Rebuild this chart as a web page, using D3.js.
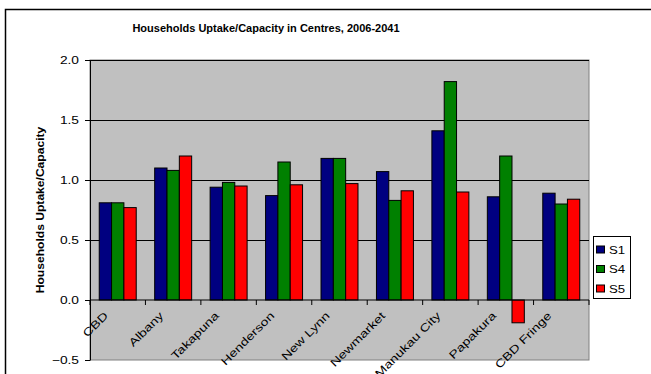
<!DOCTYPE html>
<html><head><meta charset="utf-8">
<script src="https://cdn.jsdelivr.net/npm/d3@7"></script>
<style>body{margin:0;background:#fff;}svg{display:block;font-family:"Liberation Sans",Arial,sans-serif;}</style>
</head><body>
<script>
const categories = ["CBD","Albany","Takapuna","Henderson","New Lynn","Newmarket","Manukau City","Papakura","CBD Fringe"];
const seriesNames = ["S1","S4","S5"];
const s1 = [0.81,1.10,0.94,0.87,1.18,1.07,1.41,0.86,0.89];
const s4 = [0.81,1.08,0.98,1.15,1.18,0.83,1.82,1.20,0.80];
const s5 = [0.77,1.20,0.95,0.96,0.97,0.91,0.90,-0.19,0.84];
const yTicks = [-0.5,0.0,0.5,1.0,1.5,2.0];
const colors = ["#000080","#008000","#FF0000"];

const W=651,H=374;
const svg=d3.select("body").append("svg").attr("width",W).attr("height",H);
svg.append("rect").attr("x",5.5).attr("y",9.5).attr("width",700).attr("height",400).attr("fill","#fff").attr("stroke","#000").attr("stroke-width",1.5);

const L=90,R=589,T=60,B=360;
const x=d3.scaleBand().domain(categories).range([L,R]).paddingInner(0.333).paddingOuter(0.1667);
const y=d3.scaleLinear().domain([-0.5,2.0]).range([B,T]);
const xs=d3.scaleBand().domain(seriesNames).range([0,x.bandwidth()]);

svg.append("rect").attr("x",L).attr("y",T).attr("width",R-L).attr("height",B-T).attr("fill","#C0C0C0").attr("stroke","#808080");
svg.append("g").selectAll("line").data(yTicks.filter(d=>d>0)).join("line")
 .attr("x1",L).attr("x2",R).attr("y1",d=>Math.round(y(d))+0.5).attr("y2",d=>Math.round(y(d))+0.5).attr("stroke","#000").attr("stroke-width",1);

const data=[s1,s4,s5];
const g=svg.append("g");
seriesNames.forEach((s,i)=>{
  g.selectAll(".b"+i).data(categories).join("rect")
   .attr("x",c=>x(c)+xs(s)).attr("width",xs.bandwidth())
   .attr("y",(c,j)=>y(Math.max(0,data[i][j])))
   .attr("height",(c,j)=>Math.abs(y(data[i][j])-y(0)))
   .attr("fill",colors[i]).attr("stroke","#000").attr("stroke-width",1);
});

// y axis
const ya=svg.append("g").attr("transform",`translate(${L},0)`).call(d3.axisLeft(y).tickValues(yTicks).tickFormat(d3.format(".1f")).tickSize(5).tickSizeOuter(0));
ya.select(".domain").attr("stroke","#000");
ya.selectAll("line").attr("stroke","#000");
ya.selectAll(".tick text").each(function(){
  const t=d3.select(this);
  t.attr("font-size",11).attr("fill","#000").attr("font-family","Liberation Sans, Arial, sans-serif")
   .attr("x",0).attr("transform","translate(-11,0) scale(1.25,1)");
});

// x axis at zero
const xa=svg.append("g").attr("transform",`translate(0,${y(0)})`);
xa.append("line").attr("x1",L).attr("x2",R).attr("y1",0).attr("y2",0).attr("stroke","#000");
const step=(R-L)/categories.length;
xa.selectAll(".tk").data(d3.range(categories.length+1)).join("line")
 .attr("x1",i=>L+i*step).attr("x2",i=>L+i*step).attr("y1",0).attr("y2",5).attr("stroke","#000");
xa.selectAll("text").data(categories).join("text")
 .attr("transform",c=>`translate(${x(c)+x.bandwidth()/2-14.5},${11}) rotate(-45) scale(1.3,1)`)
 .attr("text-anchor","end").attr("dy","0.7em").attr("font-size",11).attr("fill","#000").text(c=>c);

// title
svg.append("text").attr("x",266).attr("y",32).attr("text-anchor","middle").attr("font-size",11).attr("font-weight","bold").text("Households Uptake/Capacity in Centres, 2006-2041");
svg.append("text").attr("transform","translate(44,210) rotate(-90) scale(1.1,1)").attr("text-anchor","middle").attr("font-size",11).attr("font-weight","bold").text("Households Uptake/Capacity");

// legend
const lg=svg.append("g");
lg.append("rect").attr("x",593.5).attr("y",236.5).attr("width",37).attr("height",62).attr("fill","#fff").attr("stroke","#000");
seriesNames.forEach((s,i)=>{
  const yy=249.5+i*19.5;
  lg.append("rect").attr("x",596.5).attr("y",yy-3.5).attr("width",8).attr("height",7).attr("fill",colors[i]).attr("stroke","#000");
  lg.append("text").attr("transform",`translate(609,${yy+4}) scale(1.2,1)`).attr("font-size",11).text(s);
});
</script>
</body></html>
